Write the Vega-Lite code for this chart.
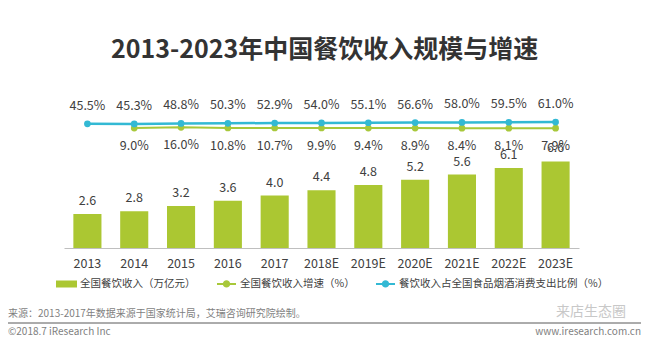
{
  "$schema": "https://vega.github.io/schema/vega-lite/v6.json",
  "padding": {"top": 38, "left": 7, "right": 5, "bottom": 5},
  "background": "#ffffff",
  "config": {
    "view": {"stroke": null},
    "font": "Noto Sans CJK SC",
    "text": {"font": "Noto Sans CJK SC"}
  },
  "title": {
    "text": "2013-2023年中国餐饮收入规模与增速",
    "fontSize": 25,
    "fontWeight": "bold",
    "font": "Noto Sans CJK SC",
    "color": "#333333",
    "anchor": "middle",
    "offset": 29
  },
  "spacing": 14,
  "resolve": {"legend": {"color": "independent"}},
  "datasets": {
    "main": [
      {"year": "2013", "revenue": 2.6, "share": 0.455},
      {"year": "2014", "revenue": 2.8, "growth": 0.090, "share": 0.453},
      {"year": "2015", "revenue": 3.2, "growth": 0.160, "share": 0.488},
      {"year": "2016", "revenue": 3.6, "growth": 0.108, "share": 0.503},
      {"year": "2017", "revenue": 4.0, "growth": 0.107, "share": 0.529},
      {"year": "2018E", "revenue": 4.4, "growth": 0.099, "share": 0.540},
      {"year": "2019E", "revenue": 4.8, "growth": 0.094, "share": 0.551},
      {"year": "2020E", "revenue": 5.2, "growth": 0.089, "share": 0.566},
      {"year": "2021E", "revenue": 5.6, "growth": 0.084, "share": 0.580},
      {"year": "2022E", "revenue": 6.1, "growth": 0.081, "share": 0.595},
      {"year": "2023E", "revenue": 6.6, "growth": 0.079, "share": 0.610}
    ],
    "footer": [
      {"text": "来源：2013-2017年数据来源于国家统计局，艾瑞咨询研究院绘制。", "row": "source", "side": "left", "kind": "note"},
      {"text": "©2018.7 iResearch Inc", "row": "credit", "side": "left", "kind": "note"},
      {"text": "www.iresearch.com.cn", "row": "credit", "side": "right", "kind": "note"},
      {"text": "来店生态圈", "row": "source", "side": "right", "kind": "watermark"}
    ]
  },
  "vconcat": [
    {
      "width": 515,
      "height": 156,
      "data": {"name": "main"},
      "encoding": {
        "x": {
          "field": "year",
          "type": "ordinal",
          "sort": null,
          "scale": {"paddingInner": 0.4, "paddingOuter": 0.2},
          "axis": {
            "title": null,
            "labelAngle": 0,
            "ticks": false,
            "domainColor": "#bfbfbf",
            "domainWidth": 1,
            "labelFontSize": 12.5,
            "labelColor": "#404040",
            "labelPadding": 9,
            "labelFont": "Noto Sans CJK SC"
          }
        }
      },
      "layer": [
        {
          "mark": {"type": "bar"},
          "encoding": {
            "y": {"field": "revenue", "type": "quantitative", "scale": {"domain": [0, 11.9]}, "axis": null},
            "color": {
              "datum": "全国餐饮收入（万亿元）",
              "scale": {
                "domain": ["全国餐饮收入（万亿元）", "全国餐饮收入增速（%）", "餐饮收入占全国食品烟酒消费支出比例（%）"],
                "range": ["#abc732", "#a8c83a", "#33b9d4"]
              },
              "legend": {
                "orient": "none",
                "legendX": -8,
                "legendY": 181,
                "direction": "horizontal",
                "title": null,
                "labelFontSize": 10.5,
                "labelColor": "#404040",
                "labelFont": "Noto Sans CJK SC",
                "labelLimit": 400,
                "labelOffset": 3,
                "symbolSize": 361,
                "columnPadding": 17,
                "encode": {
                  "symbols": {
                    "update": {
                      "shape": {"signal": "datum.value === '全国餐饮收入（万亿元）' ? 'M-1,-0.27H1V0.27H-1Z' : 'M-1,0H1M0.28,0A0.28,0.28 0 1 1 -0.28,0A0.28,0.28 0 1 1 0.28,0Z'"},
                      "fill": {"scale": "color", "field": "value"},
                      "stroke": {"scale": "color", "field": "value"},
                      "strokeWidth": {"value": 2},
                      "opacity": {"value": 1},
                      "fillOpacity": {"value": 1}
                    }
                  }
                }
              }
            }
          }
        },
        {
          "mark": {"type": "text", "baseline": "bottom", "dy": -6, "fontSize": 12.5, "color": "#404040"},
          "encoding": {
            "y": {"field": "revenue", "type": "quantitative", "scale": {"domain": [0, 11.9]}, "axis": null},
            "text": {"field": "revenue", "type": "quantitative", "format": ".1f"}
          }
        },
        {
          "mark": {"type": "line", "strokeWidth": 2},
          "encoding": {
            "y": {"field": "growth", "type": "quantitative", "scale": {"domain": [-10.24, 3.2]}, "axis": null},
            "color": {"datum": "全国餐饮收入增速（%）"}
          }
        },
        {
          "mark": {"type": "point", "filled": true, "size": 45, "opacity": 1},
          "encoding": {
            "y": {"field": "growth", "type": "quantitative", "scale": {"domain": [-10.24, 3.2]}, "axis": null},
            "color": {"datum": "全国餐饮收入增速（%）"}
          }
        },
        {
          "mark": {"type": "text", "baseline": "middle", "dy": 18, "fontSize": 12.5, "color": "#404040"},
          "encoding": {
            "y": {"field": "growth", "type": "quantitative", "scale": {"domain": [-10.24, 3.2]}, "axis": null},
            "text": {"field": "growth", "type": "quantitative", "format": ".1%"}
          }
        },
        {
          "mark": {"type": "line", "strokeWidth": 2.5},
          "encoding": {
            "y": {"field": "share", "type": "quantitative", "scale": {"domain": [-10.24, 3.2]}, "axis": null},
            "color": {"datum": "餐饮收入占全国食品烟酒消费支出比例（%）"}
          }
        },
        {
          "mark": {"type": "point", "filled": true, "size": 45, "opacity": 1},
          "encoding": {
            "y": {"field": "share", "type": "quantitative", "scale": {"domain": [-10.24, 3.2]}, "axis": null},
            "color": {"datum": "餐饮收入占全国食品烟酒消费支出比例（%）"}
          }
        },
        {
          "mark": {"type": "text", "baseline": "middle", "dy": -18, "fontSize": 12.5, "color": "#404040"},
          "encoding": {
            "y": {"field": "share", "type": "quantitative", "scale": {"domain": [-10.24, 3.2]}, "axis": null},
            "text": {"field": "share", "type": "quantitative", "format": ".1%"}
          }
        }
      ],
      "resolve": {"scale": {"y": "independent"}}
    },
    {
      "width": 515,
      "height": 18,
      "data": {"name": "footer"},
      "encoding": {
        "x": {"field": "side", "type": "nominal", "scale": {"type": "point", "domain": ["left", "right"], "range": [-56, 577], "padding": 0}, "axis": null},
        "y": {"field": "row", "type": "nominal", "scale": {"type": "point", "domain": ["source", "line", "credit"], "range": [0, 18], "padding": 0}, "axis": null}
      },
      "layer": [
        {
          "mark": {"type": "rule", "color": "#a6a6a6", "strokeWidth": 1},
          "encoding": {
            "x": {"datum": "left"},
            "x2": {"datum": "right"},
            "y": {"datum": "line"}
          }
        },
        {
          "transform": [{"filter": "datum.side === 'left'"}],
          "mark": {"type": "text", "align": "left", "baseline": "middle", "fontSize": 10, "color": "#7f7f7f"},
          "encoding": {"text": {"field": "text"}}
        },
        {
          "transform": [{"filter": "datum.side === 'right' && datum.kind === 'note'"}],
          "mark": {"type": "text", "align": "right", "baseline": "middle", "fontSize": 10, "color": "#7f7f7f"},
          "encoding": {"text": {"field": "text"}}
        },
        {
          "transform": [{"filter": "datum.kind === 'watermark'"}],
          "mark": {"type": "text", "align": "right", "baseline": "middle", "dx": -15, "dy": -2, "fontSize": 14, "color": "#c8c8c8"},
          "encoding": {"text": {"field": "text"}}
        }
      ]
    }
  ]
}
